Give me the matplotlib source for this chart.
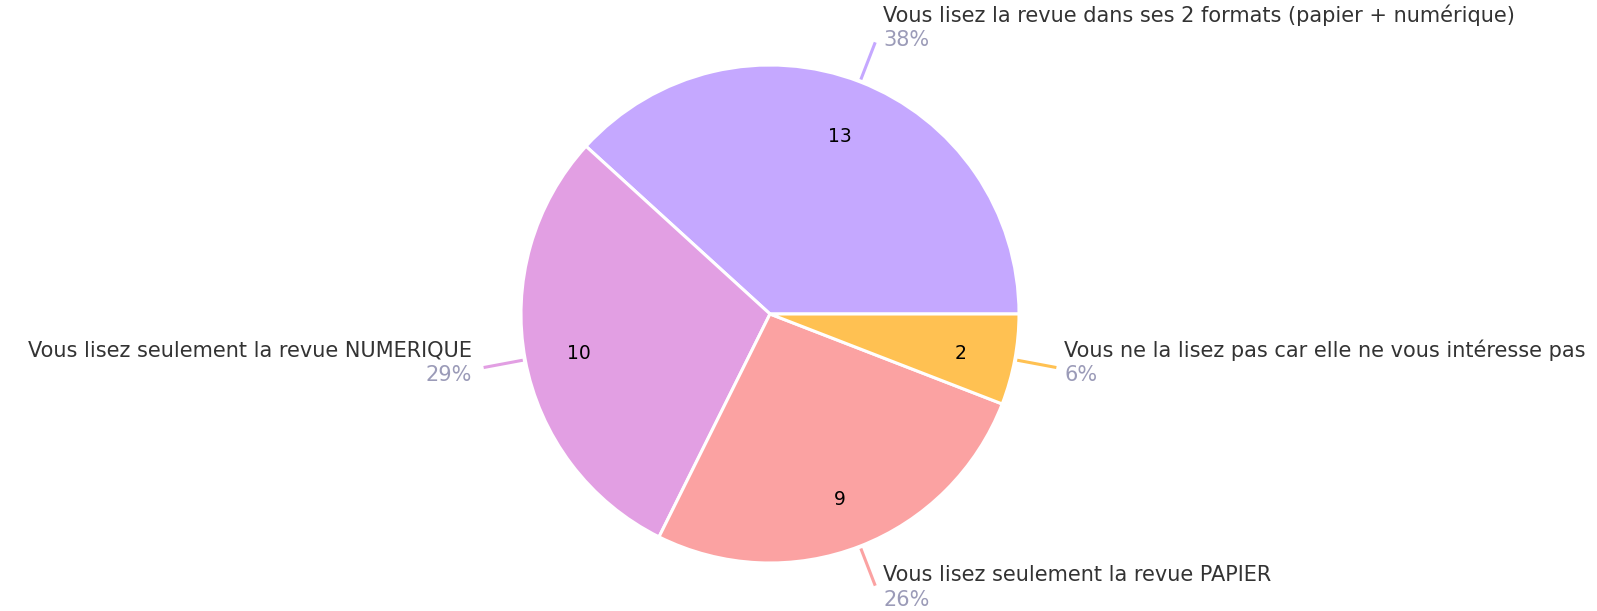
import matplotlib.pyplot as plt
import numpy as np

categories = [
    "Vous lisez la revue dans ses 2 formats (papier + numérique)",
    "Vous lisez seulement la revue NUMERIQUE",
    "Vous lisez seulement la revue PAPIER",
    "Vous ne la lisez pas car elle ne vous intéresse pas",
]
counts = [13, 10, 9, 2]
colors = ['#c5a8ff', '#e29fe3', '#fba2a2', '#ffc152']

plt.rcParams['font.family'] = ['DejaVu Sans']

W, H = 1597, 611
fig = plt.figure(figsize=(W / 100, H / 100), dpi=100)
ax = fig.add_axes([0, 0, 1, 1])

cx, cy, R = 770, H - 314, 249
total = sum(counts)

wedges, texts, autotexts = ax.pie(
    counts, colors=colors, startangle=0, counterclock=True,
    center=(cx, cy), radius=R,
    autopct=lambda p: f'{round(p * total / 100)}', pctdistance=0.78,
    wedgeprops=dict(edgecolor='white', linewidth=2.2),
    textprops=dict(fontsize=13.5, color='black'))
for t in autotexts:
    x, y = t.get_position()
    t.set_position((x, y - 4))

ax.set_xlim(0, W)
ax.set_ylim(0, H)
ax.set_aspect('equal')
ax.axis('off')

# --- outside labels with short radial leader lines ---
for w, name, n, col in zip(wedges, categories, counts, colors):
    ang = np.deg2rad((w.theta1 + w.theta2) / 2)
    c, s = np.cos(ang), np.sin(ang)
    x0, y0 = cx + 1.01 * R * c, cy + 1.01 * R * s
    ex, ey = cx + 1.17 * R * c, cy + 1.17 * R * s
    ax.plot([x0, ex], [y0, ey], color=col, lw=2.2, solid_capstyle='butt')
    if c > 0:
        tx, ha = ex + 8, 'left'
    else:
        tx, ha = ex - 12, 'right'
    base = ey + 6.5 + 9 * s
    ax.text(tx, base + 12.5, name, ha=ha, va='center', fontsize=15,
            color='#333333')
    ax.text(tx, base - 12.5, f'{round(100 * n / total)}%', ha=ha,
            va='center', fontsize=15, color='#9b9bb8')

fig.savefig('out.png', dpi=100)
